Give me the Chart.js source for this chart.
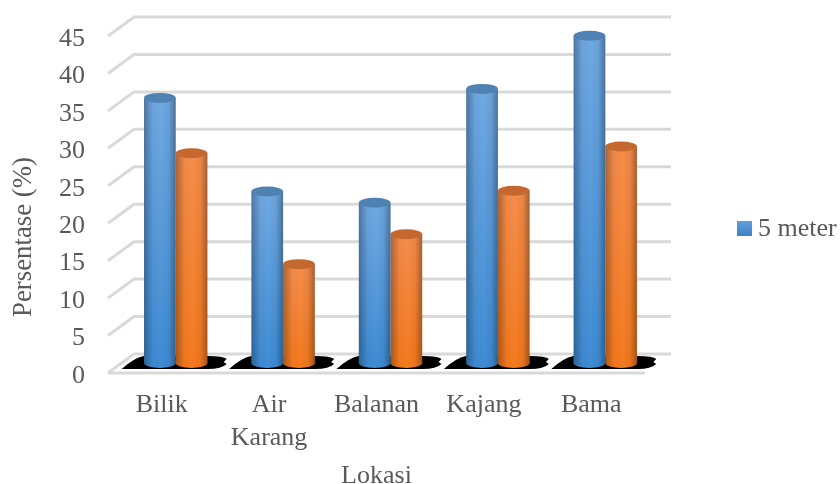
<!DOCTYPE html>
<html>
<head>
<meta charset="utf-8">
<style>
  html, body { margin: 0; padding: 0; background: #fff; }
  canvas { display: block; }
</style>
<script src="https://cdn.jsdelivr.net/npm/chart.js@4"></script>
</head>
<body>
<canvas id="chart" width="840" height="484"></canvas>
<script>
const categories = ['Bilik', ['Air', 'Karang'], 'Balanan', 'Kajang', 'Bama'];
const series5m = [35.4, 22.9, 21.4, 36.6, 43.7];
const seriesOther = [28.0, 13.2, 17.2, 23.0, 28.9];
const yTicks = { min: 0, max: 45, step: 5 };

const TEXT_COLOR = '#595959';
const GRID_COLOR = '#d9d9d9';
const FONT = { family: '"Liberation Serif", serif', size: 26 };

// the tick text sits a little below the lines of the front plane
const PLANE_LIFT = 3;
// how far the back wall and the bars sit from the front plane
const WALL_DX = 26, WALL_DY = 19;
const BAR_DX = 14, BAR_DY = 10;
const CAP_RY = 5;

const blue = { top: '#70a9e2', bottom: '#3f8cd4', cap: '#4f81b3' };
const orange = { top: '#f58d4c', bottom: '#f47a1f', cap: '#c5682f' };

function bodyFill(colors) {
  return ctx => {
    if (ctx.type !== 'data') return colors.bottom;
    const y = ctx.chart.scales.y;
    const top = y.getPixelForValue(ctx.raw);
    const bottom = y.getPixelForValue(0);
    if (!isFinite(top) || !isFinite(bottom)) return colors.bottom;
    const g = ctx.chart.ctx.createLinearGradient(0, top, 0, bottom);
    g.addColorStop(0, colors.top);
    g.addColorStop(1, colors.bottom);
    return g;
  };
}

// back wall gridlines, left wall diagonals and the floor
const wallPlugin = {
  id: 'wall',
  beforeDatasetsDraw(chart) {
    const { ctx, chartArea: area, scales: { y } } = chart;
    ctx.save();
    ctx.translate(0, -PLANE_LIFT);
    ctx.strokeStyle = GRID_COLOR;
    ctx.lineWidth = 3;
    for (let v = yTicks.min; v <= yTicks.max; v += yTicks.step) {
      const py = y.getPixelForValue(v);
      ctx.beginPath();
      ctx.moveTo(area.left, py);
      ctx.lineTo(area.left + WALL_DX, py - WALL_DY);
      ctx.lineTo(area.right + WALL_DX, py - WALL_DY);
      ctx.stroke();
    }
    ctx.beginPath();
    ctx.moveTo(area.left, area.bottom);
    ctx.lineTo(area.right, area.bottom);
    ctx.stroke();

    // black floor shadow under each pair of bars
    const y0 = y.getPixelForValue(0);
    const first = chart.getDatasetMeta(0).data;
    const second = chart.getDatasetMeta(1).data;
    ctx.fillStyle = '#000';
    first.forEach((bar, i) => {
      const cx = (bar.x + second[i].x) / 2 + BAR_DX;
      ctx.beginPath();
      ctx.moveTo(cx - 54, y0 - 4);
      ctx.quadraticCurveTo(cx - 42, y0 - 15, cx - 32, y0 - 17);
      ctx.lineTo(cx + 32, y0 - 17);
      ctx.quadraticCurveTo(cx + 48, y0 - 17, cx + 51, y0 - 14);
      ctx.lineTo(cx + 48, y0 - 11);
      ctx.lineTo(cx + 51, y0 - 9);
      ctx.quadraticCurveTo(cx + 46, y0 - 4, cx + 32, y0 - 4);
      ctx.closePath();
      ctx.fill();
    });
    ctx.restore();
  }
};

// cylinders: the library draws the body, this adds the depth offset, edges and caps
const cylinderPlugin = {
  id: 'cylinder',
  beforeDatasetDraw(chart, { meta }) {
    const { ctx } = chart;
    ctx.save();
    ctx.translate(BAR_DX, -BAR_DY - PLANE_LIFT);
    const colors = meta.index === 0 ? blue : orange;
    ctx.fillStyle = colors.bottom;
    meta.data.forEach(bar => {
      ctx.beginPath();
      ctx.ellipse(bar.x, bar.base, bar.width / 2, CAP_RY, 0, 0, Math.PI * 2);
      ctx.fill();
    });
  },
  afterDatasetDraw(chart, { meta }) {
    const { ctx } = chart;
    const colors = meta.index === 0 ? blue : orange;
    meta.data.forEach(bar => {
      const left = bar.x - bar.width / 2;
      const shade = ctx.createLinearGradient(left, 0, left + bar.width, 0);
      shade.addColorStop(0, 'rgba(0,0,0,0.3)');
      shade.addColorStop(0.28, 'rgba(0,0,0,0.03)');
      shade.addColorStop(0.55, 'rgba(0,0,0,0)');
      shade.addColorStop(0.78, 'rgba(0,0,0,0.05)');
      shade.addColorStop(1, 'rgba(0,0,0,0.32)');
      ctx.fillStyle = shade;
      ctx.beginPath();
      ctx.moveTo(left, bar.y);
      ctx.lineTo(left, bar.base);
      ctx.ellipse(bar.x, bar.base, bar.width / 2, CAP_RY, 0, Math.PI, 0, true);
      ctx.lineTo(left + bar.width, bar.y);
      ctx.closePath();
      ctx.fill();

      ctx.fillStyle = colors.cap;
      ctx.beginPath();
      ctx.ellipse(bar.x, bar.y, bar.width / 2, CAP_RY, 0, 0, Math.PI * 2);
      ctx.fill();
    });
    ctx.restore();
  }
};

// y axis title sits lower than the plot centre, and the key only lists the first series
const labelsPlugin = {
  id: 'sideLabels',
  afterDraw(chart) {
    const { ctx } = chart;
    ctx.save();
    ctx.fillStyle = TEXT_COLOR;
    ctx.textBaseline = 'middle';
    ctx.textAlign = 'center';
    ctx.save();
    ctx.font = `26.8px ${FONT.family}`;
    ctx.translate(24, 237);
    ctx.rotate(-Math.PI / 2);
    ctx.fillText('Persentase (%)', 0, 0);
    ctx.restore();

    const swatch = ctx.createLinearGradient(0, 221, 0, 236);
    swatch.addColorStop(0, '#5f9edd');
    swatch.addColorStop(1, '#3f82c6');
    ctx.fillStyle = swatch;
    ctx.fillRect(737, 221, 15, 15);
    ctx.font = `${FONT.size}px ${FONT.family}`;
    ctx.fillStyle = TEXT_COLOR;
    ctx.textAlign = 'left';
    ctx.fillText(chart.data.datasets[0].label, 758, 229);
    ctx.restore();
  }
};

new Chart(document.getElementById('chart'), {
  type: 'bar',
  data: {
    labels: categories,
    datasets: [
      { label: '5 meter', data: series5m, backgroundColor: bodyFill(blue) },
      { label: '', data: seriesOther, backgroundColor: bodyFill(orange) }
    ]
  },
  options: {
    responsive: false,
    animation: false,
    layout: { padding: { top: 36 + PLANE_LIFT, right: 195 } },
    datasets: { bar: { categoryPercentage: 0.59, barPercentage: 1 } },
    plugins: { legend: { display: false }, tooltip: { enabled: false } },
    scales: {
      x: {
        grid: { display: false },
        border: { display: false },
        ticks: { color: TEXT_COLOR, font: { ...FONT, lineHeight: 1.27 }, padding: 5, maxRotation: 0 },
        title: { display: true, text: 'Lokasi', color: TEXT_COLOR, font: FONT, padding: { top: 0, bottom: -8 } },
        afterFit(scale) { scale.height = 111 - PLANE_LIFT; }
      },
      y: {
        min: yTicks.min,
        max: yTicks.max,
        grid: { display: false, drawTicks: false },
        border: { display: false },
        ticks: { stepSize: yTicks.step, color: TEXT_COLOR, font: FONT, padding: 23 },
        afterFit(scale) { scale.width = 108; }
      }
    }
  },
  plugins: [wallPlugin, cylinderPlugin, labelsPlugin]
});
</script>
</body>
</html>
